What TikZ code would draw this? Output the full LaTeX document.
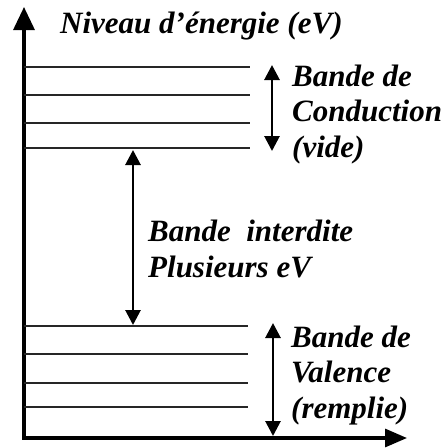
\documentclass[tikz,border=0pt]{standalone}
\usepackage{fontspec}
\setmainfont{Liberation Serif}
\usetikzlibrary{arrows.meta}

\begin{document}
\begin{tikzpicture}[x=1pt,y=-1pt,
  lbl/.style={font=\fontsize{31}{35.5}\selectfont\bfseries\itshape,inner sep=0pt,align=left,anchor=base west},
  niveau/.style={line width=2pt,black!85},
  axe/.style={line width=3.2pt,line join=miter},
  fleche/.style={{Triangle[length=15pt,width=15pt]}-{Triangle[length=15pt,width=15pt]},line width=2.8pt}]
  \useasboundingbox (0,0) rectangle (448,448);
  % axes
  \coordinate (orig) at (24,438);
  \coordinate (yhaut) at (24,7);
  \coordinate (xfin) at (407,438);
  \draw[axe,{Triangle[length=23pt,width=21pt]}-{Triangle[length=22pt,width=18pt]}] (yhaut) -- (orig) -- (xfin);
  \node[lbl] (titre) at (60,33) {Niveau d’énergie (eV)};
  % niveaux des bandes
  \foreach \y in {67,95,123,148} \draw[niveau] (24,\y) -- (250,\y);
  \foreach \y in {326,354,383,407} \draw[niveau] (24,\y) -- (248,\y);
  % bande de conduction (base = derniere ligne)
  \coordinate (bc-haut) at (272,65);
  \coordinate (bc-bas) at (272,151);
  \draw[fleche] (bc-haut) -- (bc-bas);
  \node[lbl] (bc) at (292,157) {Bande de\\Conduction\\(vide)};
  % bande interdite
  \coordinate (bi-haut) at (133,150);
  \coordinate (bi-bas) at (133,325);
  \draw[fleche] (bi-haut) -- (bi-bas);
  \node[lbl] (bi) at (148,277) {Bande~~interdite\\Plusieurs eV};
  % bande de valence
  \coordinate (bv-haut) at (273,323);
  \coordinate (bv-bas) at (273,436);
  \draw[fleche] (bv-haut) -- (bv-bas);
  \node[lbl] (bv) at (291,418) {Bande de\\Valence\\(remplie)};
\end{tikzpicture}
\end{document}
